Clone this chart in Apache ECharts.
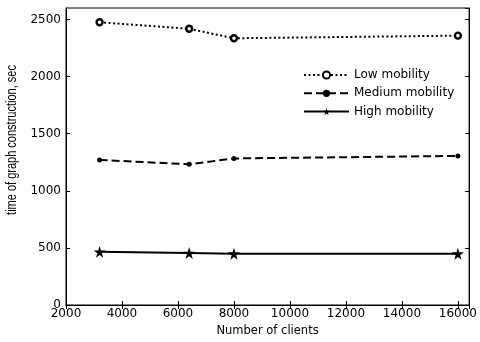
<!DOCTYPE html>
<html><head><meta charset="utf-8">
<script src="https://cdn.jsdelivr.net/npm/echarts@6/dist/echarts.min.js"></script>
<style>html,body{margin:0;padding:0;background:#fff}#c{width:480px;height:342px}</style>
</head><body><div id="c"></div>
<script>
const clients = [3200, 6400, 8000, 16000];
const lowMobility = [2475, 2418, 2335, 2358];
const mediumMobility = [1270, 1232, 1283, 1305];
const highMobility = [466, 455, 449, 449];
const seriesNames = ['Low mobility', 'Medium mobility', 'High mobility'];
const yTitle = 'time of graph construction, sec';
const xTitle = 'Number of clients';

const star = 'path://M50,0 L61,35 L98,35 L68,57 L79,91 L50,70 L21,91 L32,57 L2,35 L39,35 Z';
const font = 'DejaVu Sans';
const chart = echarts.init(document.getElementById('c'));
const pairs = arr => clients.map((x, i) => [x, arr[i]]);
const plain = v => String(v);
chart.setOption({
  animation: false,
  textStyle: {fontFamily: font},
  grid: {left: 66, top: 8, right: 7, bottom: 36, show: true, borderColor: '#000', borderWidth: 1},
  legend: {
    left: 303, top: 69, padding: 0, orient: 'vertical', itemGap: 6.3, itemWidth: 45, itemHeight: 9,
    textStyle: {fontFamily: font, fontSize: 12, color: '#000'},
    data: seriesNames
  },
  graphic: [{
    type: 'text', x: 12, y: 140, rotation: Math.PI / 2, scaleY: 1.25,
    style: {text: yTitle, font: '11px "Liberation Sans"', fill: '#000', align: 'center', verticalAlign: 'middle'}
  }],
  xAxis: [{
    type: 'value', min: 2000, max: 16400, interval: 2000,
    axisLine: {show: true, lineStyle: {color: '#000'}},
    axisTick: {inside: true, length: 4, lineStyle: {color: '#000'}},
    axisLabel: {color: '#000', fontSize: 12, margin: 3, showMaxLabel: false, formatter: plain},
    splitLine: {show: false},
    name: xTitle, nameLocation: 'middle', nameGap: 20,
    nameTextStyle: {color: '#000', fontSize: 11.5}
  }, {
    type: 'value', position: 'top', min: 2000, max: 16400, interval: 2000,
    axisLine: {show: true, lineStyle: {color: '#000'}},
    axisTick: {inside: true, length: 4, lineStyle: {color: '#000'}},
    axisLabel: {show: false}, splitLine: {show: false}
  }],
  yAxis: [{
    type: 'value', min: 0, max: 2600, interval: 500,
    axisLine: {show: true, lineStyle: {color: '#000'}},
    axisTick: {inside: true, length: 4, lineStyle: {color: '#000'}},
    axisLabel: {color: '#000', fontSize: 12, margin: 5, showMaxLabel: false, formatter: plain},
    splitLine: {show: false}
  }, {
    type: 'value', position: 'right', min: 0, max: 2600, interval: 500,
    axisLine: {show: true, lineStyle: {color: '#000'}},
    axisTick: {inside: true, length: 4, lineStyle: {color: '#000'}},
    axisLabel: {show: false}, splitLine: {show: false}
  }],
  series: [{
    name: seriesNames[0], type: 'line', data: pairs(lowMobility),
    lineStyle: {color: '#000', width: 2, type: [2, 2.5]},
    symbol: 'circle', symbolSize: 6,
    itemStyle: {color: '#fff', borderColor: '#000', borderWidth: 2.4}
  }, {
    name: seriesNames[1], type: 'line', data: pairs(mediumMobility),
    lineStyle: {color: '#000', width: 2, type: [8, 4]},
    symbol: 'circle', symbolSize: 5,
    itemStyle: {color: '#000', borderColor: '#000', borderWidth: 0}
  }, {
    name: seriesNames[2], type: 'line', data: pairs(highMobility),
    lineStyle: {color: '#000', width: 2, type: 'solid'},
    symbol: star, symbolSize: 12,
    itemStyle: {color: '#000', borderColor: '#000', borderWidth: 0}
  }]
});
</script></body></html>
